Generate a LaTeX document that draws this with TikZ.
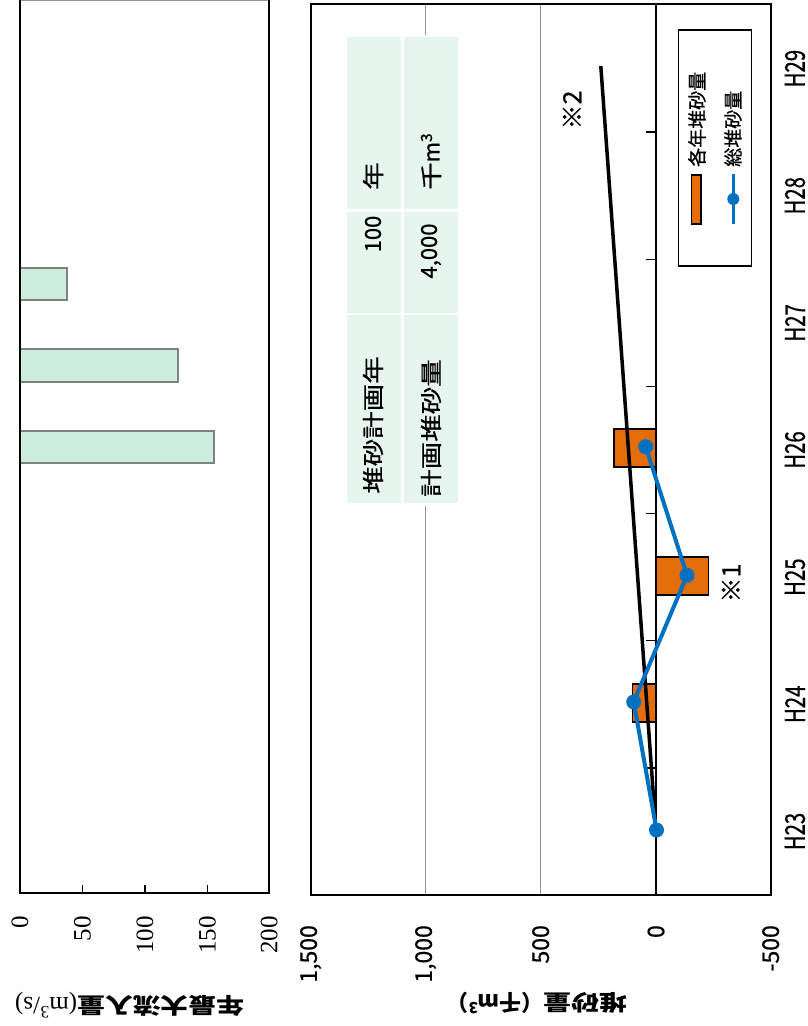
\documentclass[tikz,border=0pt]{standalone}
\usepackage{fontspec}
\setmainfont{Liberation Serif}
\newfontfamily\jp[FakeBold=0.7]{Noto Sans CJK JP}
\newfontfamily\jpb{Noto Sans CJK JP}
\definecolor{barmint}{RGB}{205,237,222}
\definecolor{cellgreen}{RGB}{230,245,238}
\definecolor{orng}{RGB}{228,108,10}
\definecolor{blu}{RGB}{0,112,192}
\definecolor{gridgray}{RGB}{150,150,150}
\definecolor{bargray}{RGB}{128,128,128}
\newcommand{\wj}[1]{\scalebox{1.25}[1]{#1}}
\begin{document}
\begin{tikzpicture}[x=1pt,y=-1pt,
  axisline/.style={draw=black, line width=2.2pt},
  mintbar/.style={fill=barmint, draw=bargray, line width=1.3pt},
  sedbar/.style={fill=orng, draw=black, line width=1.2pt},
  cellbox/.style={fill=cellgreen, draw=none},
  lticklbl/.style={rotate=90, anchor=east, inner sep=0pt, font=\fontsize{25}{25}\selectfont},
  rticklbl/.style={rotate=90, anchor=east, inner sep=0pt, font=\jp\fontsize{23}{23}\selectfont},
  catlbl/.style={rotate=90, inner sep=0pt, font=\jp\fontsize{21}{21}\selectfont},
  celltext/.style={rotate=90, inner sep=0pt, font=\jp\fontsize{22}{22}\selectfont},
  notetext/.style={rotate=90, inner sep=0pt, font=\jp\fontsize{25}{25}\selectfont},
  legtext/.style={rotate=90, anchor=west, inner sep=0pt, font=\jp\fontsize{19}{19}\selectfont},
  ttl/.style={rotate=180, inner sep=0pt, font=\jpb\bfseries\fontsize{22}{22}\selectfont},
  totline/.style={draw=blu, line width=4pt},
  dot/.style={fill=blu}
]
\useasboundingbox (0,0) rectangle (808,1026);
\fill[white] (0,0) rectangle (808,1026);

% ---------- left chart ----------
\draw[gridgray, line width=1pt] (20,0.6) -- (269.5,0.6);
\draw[mintbar] (20,268) rectangle (67,300);
\draw[mintbar] (20,349) rectangle (178,382);
\draw[mintbar] (20,431) rectangle (214,463);
\draw[axisline] (20,0) -- (20,892.7) -- (269.3,892.7) -- (269.3,0);
\foreach \x in {82.5,145,207.5} \draw[line width=1.8pt] (\x,892.7) -- (\x,885);
\foreach \x/\t [count=\i] in {20/0, 82.5/50, 145/100, 207.5/150, 269.3/200}
  \node[lticklbl] (lt\i) at (\x,916) {\t};
\node[rotate=180, inner sep=0pt] (ltitle) at (130,1005)
  {{\jpb\bfseries\fontsize{22}{22}\selectfont\scalebox{1.27}[1]{年最大流入量}}{\fontsize{25}{25}\selectfont(m\textsuperscript{3}/s)}};

% ---------- right chart ----------
\draw[gridgray, line width=1.5pt] (425.7,4) -- (425.7,895);
\draw[gridgray, line width=1.5pt] (540.7,4) -- (540.7,895);

% table
\fill[white] (345,35) rectangle (460,506);
\fill[cellbox] (347.3,37.3) rectangle (401,209);
\fill[cellbox] (404,37.3) rectangle (457.7,209);
\fill[cellbox] (347.3,211.7) rectangle (401,312.7);
\fill[cellbox] (404,211.7) rectangle (457.7,312.7);
\fill[cellbox] (347.3,315) rectangle (401,503.3);
\fill[cellbox] (404,315) rectangle (457.7,503.3);
\node[celltext, anchor=west] (cA1) at (373,190) {\wj{年}};
\node[celltext, anchor=west] (cA2) at (431,190) {\wj{千}m\textsuperscript{3}};
\node[celltext] (cB1) at (373,234) {100};
\node[celltext] (cB2) at (431,251) {4,000};
\node[celltext, anchor=west] (cC1) at (373,494) {\wj{堆砂計画年}};
\node[celltext, anchor=west] (cC2) at (431,497) {\wj{計画堆砂量}};

% annual bars
\draw[sedbar] (632.7,684) rectangle (656,722);
\draw[sedbar] (656,557) rectangle (708.7,595);
\draw[sedbar] (614,429) rectangle (656,467);

% frame, zero axis, ticks
\draw[axisline] (310.7,4) rectangle (770.7,895);
\draw[axisline] (656,4) -- (656,895);
\foreach \k in {1,...,6} \draw[line width=1.5pt] (646,{895-127.14*\k}) -- (656,{895-127.14*\k});

% planned line
\coordinate (plan0) at (656,831.4);
\coordinate (plan1) at (600.8,66);
\draw[line width=3.5pt] (plan0) -- (plan1);

% total line
\coordinate (p23) at (656.5,830);
\coordinate (p24) at (633.7,702);
\coordinate (p25) at (687,575.3);
\coordinate (p26) at (645.7,446.7);
\draw[totline, line join=round] (p23) -- (p24) -- (p25) -- (p26);
\foreach \p in {p23,p24,p25,p26} \fill[dot] (\p) circle (7.5);

% notes
\node[notetext] (n1) at (731,583) {※1};
\node[notetext] (n2) at (572,110) {※2};

% legend
\draw[fill=white, line width=1.5pt] (678.3,30) rectangle (751.7,266);
\draw[sedbar] (691.7,175) rectangle (701,224);
\coordinate (lg1) at (733.3,174);
\coordinate (lg2) at (733.3,224);
\draw[draw=blu, line width=3.5pt] (lg1) -- (lg2);
\fill[dot] (733.3,199) circle (6);
\node[legtext] (leg1) at (697,167) {各年堆砂量};
\node[legtext] (leg2) at (733,167) {総堆砂量};

% category labels
\foreach \t [count=\i from 0] in {H23,H24,H25,H26,H27,H28,H29}
  \node[catlbl] (cat\i) at (795,{895-127.14*(\i+0.5)}) {\scalebox{0.97}[1.3]{\t}};

% value axis labels
\node[rticklbl] (r1) at (310.7,925) {1,500};
\node[rticklbl] (r2) at (425.7,925) {1,000};
\node[rticklbl] (r3) at (540.7,925) {500};
\node[rticklbl] (r4) at (656,925) {0};
\node[rticklbl] (r5) at (770.7,925) {-500};
\node[ttl] (rtitle) at (537,1003) {\scalebox{1.27}[1]{堆砂量}（千m\textsuperscript{3}）};
\end{tikzpicture}
\end{document}
